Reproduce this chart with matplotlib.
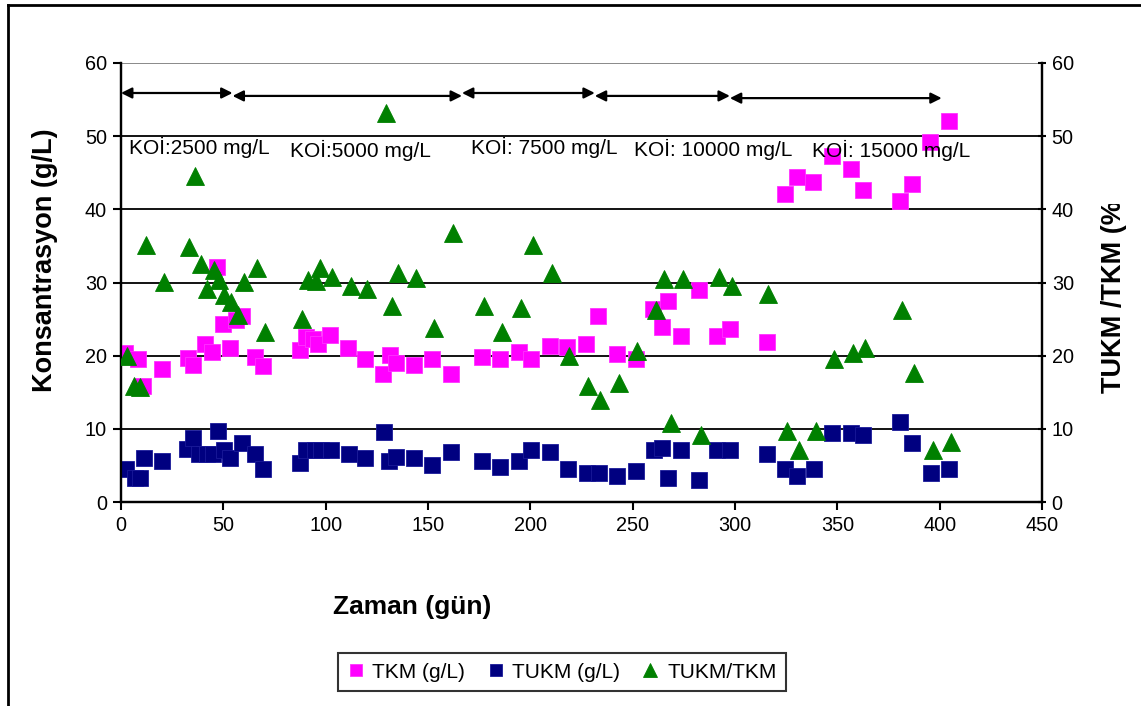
import matplotlib
matplotlib.use('Agg')
import matplotlib.pyplot as plt
from matplotlib.lines import Line2D
from matplotlib.transforms import Bbox

plt.rcParams['font.family'] = ['Liberation Sans', 'DejaVu Sans']

# TKM (g/L)
tkm_gun = [2, 8.3, 10.7, 20, 32.7, 35.2, 41, 44.5, 46.9, 49.8, 53.2, 56.2, 59.1, 65.5, 69.4,
           87.4, 90.4, 93.8, 96.2, 102.1, 110.9, 119.2, 128, 131.4, 134.3, 143.1, 151.9, 161.2,
           176.3, 185.1, 194.4, 200.3, 209.6, 217.9, 227.2, 233, 242.3, 251.6, 259.9, 264.3,
           267.2, 273.6, 282.4, 291.2, 297.5, 315.6, 324.4, 330.2, 338.1, 347.3, 356.6, 362.5,
           380.6, 386.4, 395.2, 404.5]
tkm = [20.4, 19.5, 15.9, 18.2, 19.7, 18.7, 21.6, 20.5, 32.1, 24.3, 21.0, 24.9, 25.4, 19.8, 18.6,
       20.8, 22.6, 22.3, 21.6, 22.8, 21.0, 19.5, 17.5, 20.1, 19.0, 18.7, 19.5, 17.5,
       19.8, 19.5, 20.5, 19.5, 21.3, 21.2, 21.6, 25.4, 20.2, 19.5, 26.4, 23.9,
       27.5, 22.7, 29.0, 22.7, 23.6, 21.9, 42.1, 44.4, 43.7, 47.3, 45.5, 42.6,
       41.1, 43.5, 49.2, 52.1]

# TUKM (g/L)
tukm_gun = [2.4, 6.8, 9.3, 11.2, 20, 32.2, 35.2, 38.1, 42, 44.9, 47.4, 50.3, 53.2, 59.1, 65.5,
            69.4, 87.4, 90.4, 94.8, 97.7, 102.6, 111.4, 119.2, 128.5, 130.9, 134.3, 143.1,
            151.9, 161.2, 176.3, 185.1, 194.4, 200.3, 209.6, 218.4, 227.6, 233.5, 242.3,
            251.6, 260.4, 264.3, 267.2, 273.6, 282.4, 291.2, 297.5, 315.6, 324.4, 330.2,
            338.5, 347.3, 356.6, 362.5, 380.6, 386.4, 395.7, 404.5]
tukm = [4.5, 3.3, 3.3, 6.0, 5.6, 7.2, 8.7, 6.6, 6.6, 6.6, 9.7, 7.1, 6.0, 8.0, 6.6,
        4.5, 5.3, 7.1, 7.1, 7.1, 7.1, 6.6, 6.0, 9.6, 5.6, 6.1, 6.0,
        5.0, 6.8, 5.6, 4.8, 5.6, 7.1, 6.8, 4.5, 3.9, 3.9, 3.5,
        4.2, 7.1, 7.4, 3.3, 7.1, 3.0, 7.1, 7.1, 6.6, 4.5, 3.5,
        4.5, 9.4, 9.4, 9.1, 10.9, 8.0, 3.9, 4.5]

# TUKM/TKM (%)
oran_gun = [2.9, 6.4, 9.3, 12.2, 21, 33.2, 36.2, 39.1, 42, 45.4, 47.9, 50.3, 53.7, 57.2, 60.1,
            66.4, 70.3, 88.4, 91.4, 95.3, 97.2, 103.1, 112.4, 120.2, 129.5, 132.4, 135.3,
            144.1, 152.9, 162.2, 177.3, 186.1, 195.4, 201.3, 210.6, 218.9, 228.1, 234,
            243.3, 252.1, 261.4, 265.3, 268.7, 274.5, 283.3, 292.1, 298.5, 316.1, 325.4,
            331.2, 339.5, 348.3, 357.6, 363.5, 381.5, 387.4, 396.7, 405.5]
oran = [20.0, 15.9, 15.7, 35.1, 30.1, 34.9, 44.6, 32.5, 29.1, 31.7, 30.3, 28.3, 27.3, 25.6, 30.1,
        32.0, 23.2, 25.0, 30.3, 30.2, 32.0, 30.8, 29.5, 29.1, 53.2, 26.8, 31.3,
        30.6, 23.8, 36.8, 26.8, 23.2, 26.5, 35.1, 31.3, 20.0, 15.9, 13.9,
        16.3, 20.6, 26.2, 30.5, 10.8, 30.5, 9.2, 30.8, 29.5, 28.4, 9.7,
        7.1, 9.7, 19.5, 20.4, 21.0, 26.2, 17.6, 7.1, 8.2]

# KOİ dönemleri
donem_sinir = [0, 54.5, 166.6, 231.5, 297.5, 401]
donem_y = [55.9, 55.5, 55.9, 55.5, 55.2]
donem_etiket = ['KOİ:2500 mg/L', 'KOİ:5000 mg/L', 'KOİ: 7500 mg/L', 'KOİ: 10000 mg/L', 'KOİ: 15000 mg/L']
etiket_x = [3.9, 82.6, 171, 250.6, 337.6]
etiket_y = [48.4, 48.0, 48.4, 48.2, 48.0]

W, H = 1141, 706
fig = plt.figure(figsize=(W / 100, H / 100), dpi=100)
ax = fig.add_axes([121 / W, 1 - 502 / H, 921 / W, 439 / H])
ax2 = ax.twinx()

for y in [10, 20, 30, 40, 50]:
    ax.axhline(y, color='black', lw=1.3, zorder=1)
ax.axhline(60, color='#808080', lw=1.3, zorder=1)

ax.plot(tkm_gun, tkm, ls='none', marker='s', ms=11.3, color='#FF00FF', mec='#FF33FF', mew=0.6,
        label='TKM (g/L)', zorder=3)
ax.plot(tukm_gun, tukm, ls='none', marker='s', ms=11.3, color='#000080', mec='#1a1a99', mew=0.6,
        label='TUKM (g/L)', zorder=3)
ax2.plot(oran_gun, oran, ls='none', marker='^', ms=13, color='#008000', mec='#008000', mew=0.6,
         label='TUKM/TKM', zorder=4)

for i in range(len(donem_y)):
    ax.annotate('', xy=(donem_sinir[i + 1], donem_y[i]), xytext=(donem_sinir[i], donem_y[i]),
                arrowprops=dict(arrowstyle='<|-|>', color='black', lw=1.6, mutation_scale=16,
                                shrinkA=0, shrinkB=0), zorder=5)
for t, x, y in zip(donem_etiket, etiket_x, etiket_y):
    ax.text(x, y, t, fontsize=15, va='center', ha='left', zorder=6)

for a in (ax, ax2):
    a.set_xlim(0, 450)
    a.set_ylim(0, 60)
    a.set_yticks(range(0, 61, 10))
    a.spines['top'].set_visible(False)
    for s in a.spines.values():
        s.set_linewidth(1.6)
ax.set_xticks(range(0, 451, 50))
ax.tick_params(axis='both', labelsize=14.3, length=6, width=1.5, direction='out', pad=4)
ax2.tick_params(axis='y', labelsize=14.3, length=6, width=1.5, direction='inout', pad=4)

fig.text(45 / W, 1 - 260 / H, 'Konsantrasyon (g/L)', rotation=90, fontsize=19.5, fontweight='bold',
         ha='center', va='center')
sag = fig.text(1114 / W, 1 - 292 / H, 'TUKM /TKM (%)', rotation=90, fontsize=19.5, fontweight='bold',
               ha='center', va='center')
# sağ eksen başlığı kaynakta üstten kesik
sag.set_clip_box(Bbox.from_extents(0, 0, W, H - 204))
sag.set_clip_on(True)
fig.text(412 / W, 1 - 607 / H, 'Zaman (gün)', fontsize=19, fontweight='bold', ha='center', va='center')

h1, l1 = ax.get_legend_handles_labels()
h2, l2 = ax2.get_legend_handles_labels()
leg = fig.legend(h1 + h2, l1 + l2, loc='center', bbox_to_anchor=(562 / W, 1 - 672 / H), ncol=3,
                 fontsize=15, frameon=True, fancybox=False, edgecolor='black', markerscale=0.75,
                 handlelength=0.8, handletextpad=0.4, columnspacing=1.05, borderpad=0.45)
leg.get_frame().set_linewidth(1.5)

# dış çerçeve
fig.add_artist(Line2D([8 / W, 8 / W], [0, 1 - 5 / H], color='black', lw=2, transform=fig.transFigure))
fig.add_artist(Line2D([8 / W, 1], [1 - 5 / H, 1 - 5 / H], color='black', lw=2, transform=fig.transFigure))

fig.savefig('out.png', dpi=100)
